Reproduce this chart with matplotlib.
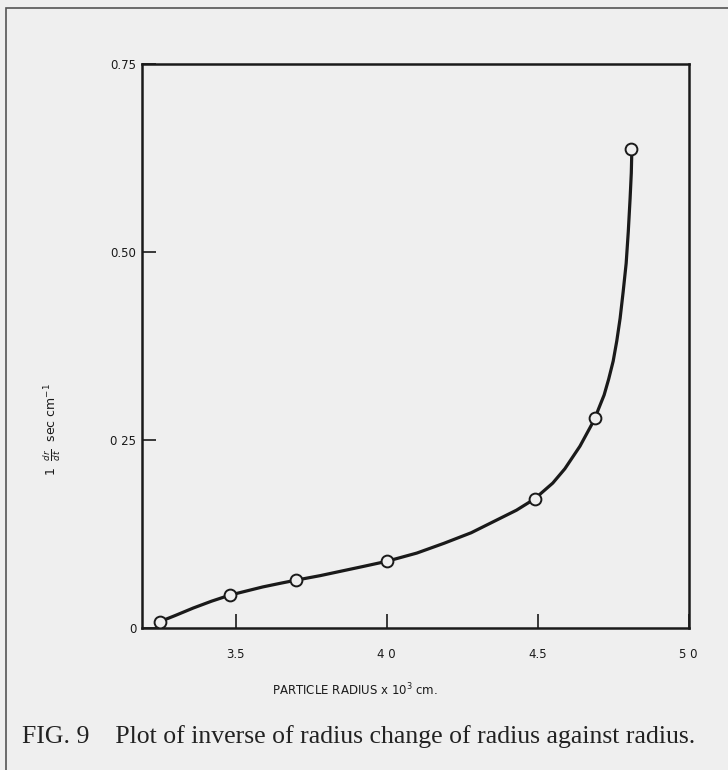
import matplotlib.pyplot as plt
from matplotlib.patches import Rectangle

# measured points (open circles)
radius = [3.25, 3.48, 3.70, 4.00, 4.49, 4.69, 4.81]
inv_rate = [0.009, 0.044, 0.064, 0.089, 0.172, 0.279, 0.637]

# hand drawn curve
curve_x = [3.25, 3.30, 3.36, 3.42, 3.48, 3.54, 3.59, 3.65, 3.70, 3.78, 3.85, 3.92,
           4.00, 4.10, 4.19, 4.28, 4.36, 4.43, 4.49, 4.55, 4.59, 4.64, 4.69, 4.70,
           4.72, 4.735, 4.75, 4.762, 4.773, 4.783, 4.793, 4.800, 4.806, 4.810, 4.812]
curve_y = [0.009, 0.017, 0.027, 0.036, 0.044, 0.050, 0.055, 0.060, 0.064, 0.070, 0.076,
           0.082, 0.089, 0.100, 0.113, 0.127, 0.143, 0.157, 0.172, 0.193, 0.212, 0.242,
           0.279, 0.290, 0.310, 0.331, 0.355, 0.382, 0.412, 0.447, 0.485, 0.527, 0.571,
           0.605, 0.638]

x_ticks = [3.5, 4.0, 4.5, 5.0]
x_labels = ["3.5", "4 0", "4.5", "5 0"]
y_ticks = [0, 0.25, 0.50, 0.75]
y_labels = ["0", "0 25", "0.50", "0.75"]

bg = "#efefef"
ink = "#1a1a1a"

fig = plt.figure(figsize=(7.28, 7.70), dpi=100, facecolor=bg)
ax = fig.add_axes([0.195, 0.184, 0.751, 0.733], facecolor=bg)

ax.plot(curve_x, curve_y, color=ink, lw=2.3, solid_capstyle="round",
        solid_joinstyle="round", zorder=2)
ax.plot(radius, inv_rate, linestyle="none", marker="o", ms=8.5,
        mfc=bg, mec=ink, mew=1.4, zorder=3)

ax.set_xlim(3.19, 5.0)
ax.set_ylim(0, 0.75)
ax.set_xticks(x_ticks)
ax.set_xticklabels(x_labels)
ax.set_yticks(y_ticks)
ax.set_yticklabels(y_labels)
ax.tick_params(axis="both", direction="in", length=10, width=1.2, colors=ink,
               labelsize=8.5, pad=4)
ax.tick_params(axis="x", pad=14)
for s in ax.spines.values():
    s.set_linewidth(1.8)
    s.set_color(ink)

fig.text(355 / 728, 1 - 690 / 770, r"PARTICLE RADIUS x 10$^3$ cm.", ha="center",
         va="center", fontsize=8.5, color=ink)
fig.text(52 / 728, 1 - 430 / 770, r"1  $\frac{dr}{dt}$  sec cm$^{-1}$",
         rotation=90, ha="center", va="center", fontsize=9, color=ink)

fig.text(22 / 728, 1 - 737 / 770,
         "FIG. 9    Plot of inverse of radius change of radius against radius.",
         family="Liberation Serif", fontsize=18.5, ha="left", va="center", color="#222222")

fig.patches.append(Rectangle((6 / 728, -0.1), 1.1, 1 - 8 / 770 + 0.1,
                             transform=fig.transFigure, fill=False,
                             edgecolor="#555555", lw=1.2))

fig.savefig("out.png", dpi=100, facecolor=bg)
